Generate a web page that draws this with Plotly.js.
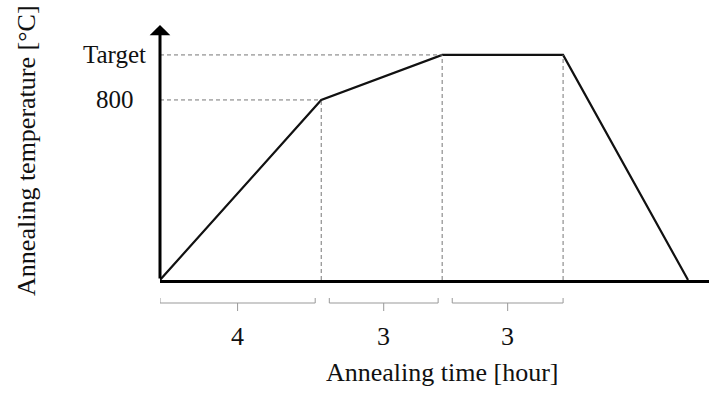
<!DOCTYPE html>
<html>
<head>
<meta charset="utf-8">
<script src="https://cdn.plot.ly/plotly-3.0.1.min.js"></script>
<style>html,body{margin:0;padding:0;background:#fff;}#chart{width:709px;height:393px;}</style>
</head>
<body>
<div id="chart"></div>
<script>
// Annealing schedule (time in hours, temperature in °C; "Target" drawn at ~1000)
var times = [0, 4, 7, 10, 13.1];
var temps = [0, 800, 1000, 1000, 0];
var yTickVals = [800, 1000];
var yTickText = ['800', 'Target'];
var phaseDurations = [4, 3, 3];
var bracketStart = [0, 4.2, 7.25];
var bracketEnd = [3.85, 6.9, 10];
var xTitle = 'Annealing time [hour]';
var yTitle = 'Annealing temperature [°C]';

var FONT = 'Liberation Serif, Times New Roman, serif';
var xMax = 13.62, yMax = 1133;

var shapes = [];
// dashed guide lines
for (var i = 1; i <= 3; i++) {
  shapes.push({type: 'line', xref: 'x', yref: 'y', x0: times[i], x1: times[i], y0: 0, y1: temps[i],
    line: {color: '#777', width: 1, dash: '4px,3px'}});
}
for (var j = 1; j <= 2; j++) {
  shapes.push({type: 'line', xref: 'x', yref: 'y', x0: 0, x1: times[j], y0: temps[j], y1: temps[j],
    line: {color: '#777', width: 1, dash: '4px,3px'}});
}
// brackets under the time axis
var yTop = -0.0706, yBot = -0.0902, yTick = -0.1216;
var annotations = [];
for (var k = 0; k < phaseDurations.length; k++) {
  var a = bracketStart[k], b = bracketEnd[k], m = (a + b) / 2;
  shapes.push({type: 'path', xref: 'x', yref: 'paper',
    path: 'M' + a + ',' + yTop + ' L' + a + ',' + yBot + ' L' + b + ',' + yBot + ' L' + b + ',' + yTop +
          ' M' + m + ',' + yBot + ' L' + m + ',' + yTick,
    line: {color: '#999', width: 1}});
  annotations.push({xref: 'x', yref: 'paper', x: m, y: -0.2235, text: String(phaseDurations[k]),
    showarrow: false, xanchor: 'center', yanchor: 'middle', font: {family: FONT, size: 26, color: '#111'}});
}
// y tick labels
for (var t = 0; t < yTickVals.length; t++) {
  annotations.push({xref: 'paper', yref: 'y', x: -0.082, y: yTickVals[t], text: yTickText[t],
    showarrow: false, xanchor: 'center', yanchor: 'middle', font: {family: FONT, size: 25, color: '#111'}});
}
// y axis arrow
annotations.push({xref: 'x', yref: 'y', axref: 'x', ayref: 'y', x: 0, y: yMax, ax: 0, ay: 0,
  showarrow: true, arrowhead: 1, arrowsize: 1.15, arrowwidth: 3, arrowcolor: '#000', standoff: 0, text: ''});
// titles
annotations.push({xref: 'paper', yref: 'paper', x: 0.5137, y: -0.361, text: xTitle, showarrow: false,
  xanchor: 'center', yanchor: 'middle', font: {family: FONT, size: 26, color: '#111'}});
annotations.push({xref: 'paper', yref: 'paper', x: -0.2423, y: 0.51, text: yTitle, showarrow: false,
  textangle: -90, xanchor: 'center', yanchor: 'middle', font: {family: FONT, size: 26, color: '#111'}});

var trace = {x: times, y: temps, type: 'scatter', mode: 'lines', cliponaxis: false,
  line: {color: '#111', width: 2.2}, hoverinfo: 'skip'};

var layout = {
  width: 709, height: 393,
  margin: {l: 160, r: 0, t: 25, b: 113},
  paper_bgcolor: '#fff', plot_bgcolor: '#fff',
  showlegend: false,
  xaxis: {range: [0, xMax], showgrid: false, zeroline: false, showticklabels: false, ticks: '',
    showline: true, linewidth: 3, linecolor: '#000', fixedrange: true},
  yaxis: {range: [0, yMax], showgrid: false, zeroline: false, showticklabels: false, ticks: '',
    showline: false, fixedrange: true},
  shapes: shapes,
  annotations: annotations,
  hovermode: false
};
Plotly.newPlot('chart', [trace], layout, {displayModeBar: false, staticPlot: true});
</script>
</body>
</html>
